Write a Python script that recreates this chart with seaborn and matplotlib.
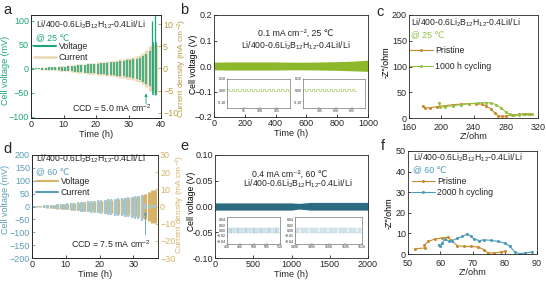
import numpy as np
import matplotlib.pyplot as plt
import seaborn as sns

sns.set_style("ticks")
plt.rcParams['font.family'] = ['Liberation Sans', 'DejaVu Sans']
plt.rcParams['mathtext.fontset'] = 'custom'
plt.rcParams['mathtext.rm'] = 'Liberation Sans'
plt.rcParams['mathtext.it'] = 'Liberation Sans:italic'
plt.rcParams['font.size'] = 6.5
plt.rcParams['axes.linewidth'] = 0.6
plt.rcParams['xtick.direction'] = 'in'
plt.rcParams['ytick.direction'] = 'in'

W, H = 546, 281
CELL = "Li/400-0.6Li$_2$B$_{12}$H$_{12}$-0.4LiI/Li"

# ---- data: panel a (CCD test, 25 C)
a_time = [0.5, 1.5, 2.5, 3.5, 4.5, 5.5, 6.5, 7.5, 8.5, 9.5, 10.5, 11.5, 12.5,
          13.5, 14.5, 15.5, 16.5, 17.5, 18.5, 19.5, 20.5, 21.5, 22.5, 23.5,
          24.5, 25.5, 26.5, 27.5, 28.5, 29.5, 30.5, 31.5, 32.5, 33.5, 34.5,
          35.5, 36.5, 37.5, 38.5]
a_current = [0.1, 0.15, 0.2, 0.25, 0.3, 0.35, 0.4, 0.45, 0.5, 0.55, 0.6, 0.68,
             0.76, 0.84, 0.92, 1.0, 1.08, 1.16, 1.24, 1.32, 1.4, 1.48, 1.56,
             1.64, 1.72, 1.8, 1.92, 2.04, 2.16, 2.28, 2.4, 2.6, 2.8, 3.1, 3.6,
             4.2, 5.0, 5.5, 5.5]
a_voltage = [0.8, 1.1, 1.5, 1.9, 2.3, 2.6, 3.0, 3.4, 3.8, 4.1, 4.5, 5.1, 5.7,
             6.3, 6.9, 7.5, 8.1, 8.7, 9.3, 9.9, 10.5, 11.1, 11.7, 12.3, 12.9,
             13.5, 14.4, 15.3, 16.2, 17.1, 18.0, 19.5, 21.0, 23.0, 27.0, 31.0,
             37.0, 55.0, 55.0]
a_spike_time = [37.3, 38.3]
a_spike_top = [100, 112]
a_spike_bottom = [-45, -55]

# ---- data: panel d (CCD test, 60 C)
d_time = [0.5, 1.5, 2.5, 3.5, 4.5, 5.5, 6.5, 7.5, 8.5, 9.5, 10.5, 11.5, 12.5,
          13.5, 14.5, 15.5, 16.5, 17.5, 18.5, 19.5, 20.5, 21.5, 22.5, 23.5,
          24.5, 25.5, 26.5, 27.5, 28.5, 29.5, 30.5, 31.5, 32.5, 33.5, 34.5,
          35.5, 36.3]
d_volt_up = [1, 2, 3, 4, 5, 6, 7, 8, 9, 11, 12, 13, 15, 16, 17, 18, 20, 21, 22,
             24, 25, 26, 28, 29, 30, 32, 33, 34, 36, 37, 40, 42, 45, 8, 6, 5, 5]
d_volt_down = [1, 2, 3, 4, 6, 7, 8, 10, 11, 12, 14, 15, 17, 18, 20, 21, 23, 24,
               26, 27, 29, 30, 32, 33, 35, 36, 38, 40, 42, 44, 47, 50, 55, 10, 8,
               6, 6]
d_current = [0.1, 0.2, 0.4, 0.5, 0.7, 0.8, 1.0, 1.2, 1.3, 1.5, 1.7, 1.8, 2.0,
             2.2, 2.4, 2.5, 2.7, 2.9, 3.1, 3.2, 3.4, 3.6, 3.8, 4.0, 4.2, 4.4,
             4.6, 4.8, 5.0, 5.3, 5.6, 6.0, 6.5, 7.5, 8.5, 9.5, 9.5]

# ---- data: panel b (0.1 mA cm-2, 25 C) envelope
b_time = [0, 100, 200, 300, 400, 500, 600, 700, 800, 900, 1000]
b_upper = [0.015, 0.016, 0.016, 0.016, 0.016, 0.015, 0.015, 0.016, 0.017, 0.019, 0.023]
b_lower = [-0.015, -0.016, -0.016, -0.016, -0.016, -0.015, -0.015, -0.016, -0.017, -0.019, -0.021]
b_in1_v = [0.012, -0.004] * 14
b_in2_v = [0.014, -0.006] * 12

# ---- data: panel e (0.4 mA cm-2, 60 C) envelope
e_time = [0, 250, 500, 750, 1000, 1100, 1250, 1500, 1750, 2000]
e_upper = [0.007, 0.007, 0.007, 0.007, 0.007, 0.006, 0.008, 0.008, 0.008, 0.008]
e_lower = [-0.007, -0.007, -0.007, -0.007, -0.007, -0.005, -0.007, -0.007, -0.007, -0.007]
e_in1_v = [0.009, -0.009] * 30
e_in2_v = [0.010, -0.010] * 30

# ---- data: panel c (EIS, 25 C)
c_pris_x = [177, 180, 186, 195, 205, 215, 225, 235, 243, 250, 256, 262, 267, 271,
            275, 280, 288, 296, 304, 310]
c_pris_y = [24, 19, 20, 22, 24, 26, 27, 28, 28, 27, 23, 17, 9, 4, 3, 4, 6, 7, 8, 8]
c_cyc_x = [197, 199, 205, 215, 225, 235, 245, 255, 262, 268, 274, 280, 285,
           290, 296, 302, 308, 312]
c_cyc_y = [30, 21, 22, 24, 26, 28, 29, 30, 29, 26, 20, 12, 7, 5, 6, 7, 8, 8]

# ---- data: panel f (EIS, 60 C)
f_pris_x = [52.1, 55.3, 55.1, 56.3, 58.4, 60.5, 62.3, 63.2, 65.3, 67.4, 69.5,
            71.6, 73.7, 74.7, 76.8, 78.9, 80.0]
f_pris_y = [2.6, 2.9, 4.5, 6.1, 7.3, 7.7, 8.2, 6.9, 4.0, 3.7, 3.7, 3.4, 2.1,
            0.5, 0.5, 1.0, 1.3]
f_cyc_x = [59.5, 60.0, 60.5, 61.6, 62.6, 63.7, 65.3, 66.8, 68.4, 69.5, 70.5,
           72.1, 73.7, 75.8, 77.9, 80.0, 81.6, 83.2, 84.7, 86.3, 88.4]
f_cyc_y = [4.5, 3.7, 5.3, 7.3, 6.1, 6.5, 7.6, 8.5, 9.8, 8.5, 7.3, 6.5, 6.9,
           6.6, 6.1, 5.3, 3.7, 0.8, 0.2, 0.5, 1.0]

# colours
GREEN_A = "#1ea57b"
BEIGE = "#e8d9b4"
GOLD = "#bb9a45"
LIME = "#8db82c"
ORANGE = "#c98a2d"
LIME2 = "#93c240"
BLUE_D = "#a3c8d5"
BLUE_LBL = "#5a9db6"
GOLD_D = "#d6b36a"
TEAL = "#2b6c82"
BLUE_F = "#4c9bb6"

fig = plt.figure(figsize=(W / 100, H / 100), dpi=100)


def box(x0, y0, x1, y1):
    return fig.add_axes([x0 / W, 1 - y1 / H, (x1 - x0) / W, (y1 - y0) / H])


def ftext(x, y, s, **kw):
    fig.text(x / W, 1 - y / H, s, **kw)


def ylab(ax, s, x, y, color="black", size=6.5):
    # x: right edge of the rotated label for a left axis, left edge for a right axis
    ax.set_ylabel(s, fontsize=size, color=color)
    ax.yaxis.set_label_coords(x / W, 1 - y / H, transform=fig.transFigure)


def style(ax, size=6.5):
    ax.tick_params(labelsize=size, length=2, width=0.6, pad=1.5)


def square_wave(ax, t0, dt, values, color, lw=0.5):
    tt, vv = [], []
    for i, v in enumerate(values):
        tt += [t0 + i * dt, t0 + (i + 1) * dt]
        vv += [v, v]
    sns.lineplot(x=tt, y=vv, sort=False, estimator=None, color=color, lw=lw, ax=ax)


LEG = dict(bbox_transform=fig.transFigure, frameon=False, fontsize=6.3,
           handletextpad=0.3, borderpad=0, borderaxespad=0, loc='upper left')

# ================= panel a
ax = box(31, 15, 161, 118)
ax2 = ax.twinx()
ax.set_zorder(ax2.get_zorder() + 1)
ax.patch.set_visible(False)
ax2.vlines(a_time, [-c for c in a_current], a_current, color=BEIGE, lw=2.4)
ax.vlines(a_time, [-v for v in a_voltage], a_voltage, color=GREEN_A, lw=1.1)
ax.vlines(a_spike_time, a_spike_bottom, a_spike_top, color=GREEN_A, lw=0.9)
ax.set_xlim(0, 40)
ax.set_ylim(-103, 112)
ax2.set_ylim(-11.2, 12.1)
ax.set_xticks([0, 10, 20, 30, 40])
ax.set_yticks([-100, -50, 0, 50, 100])
ax2.set_yticks([-10, -5, 0, 5, 10])
style(ax); style(ax2)
ax.tick_params(axis='y', colors=GREEN_A)
ax2.tick_params(axis='y', colors=GOLD)
ax2.spines['right'].set_color(GOLD)
ax.set_xlabel("Time (h)", fontsize=6.7, labelpad=1)
ylab(ax, "Cell voltage (mV)", 10.5, 70, GREEN_A)
ylab(ax2, "Current density (mA cm$^{-2}$)", 175.5, 68, GOLD, 6.0)
ax.annotate("", xy=(35.4, -46), xytext=(35.4, -80),
            arrowprops=dict(arrowstyle="-|>", color=GREEN_A, lw=0.6, mutation_scale=4))
ftext(36, 25, CELL, fontsize=6.2, va='center')
ftext(36, 38, "@ 25 ℃", fontsize=6.3, va='center', color=GREEN_A)
ftext(112, 108, "CCD = 5.0 mA cm$^{-2}$", fontsize=6.3, va='center', ha='center')
ax.plot([], [], color=GREEN_A, lw=1.5, label="Voltage")
ax.plot([], [], color=BEIGE, lw=1.8, label="Current")
ax.legend(bbox_to_anchor=(34 / W, 1 - 42 / H), handlelength=2.5, labelspacing=0.2, **LEG)

# ================= panel d
ax = box(32, 155, 158, 258)
ax2 = ax.twinx()
ax.set_zorder(ax2.get_zorder() + 1)
ax.patch.set_visible(False)
ax2.vlines(d_time, [-c for c in d_current], d_current, color=GOLD_D, lw=2.3)
ax.vlines(d_time, [-v for v in d_volt_down], d_volt_up, color=BLUE_D, lw=1.6)
ax.set_xlim(0, 37.3)
ax.set_ylim(-200, 200)
ax2.set_ylim(-30, 30)
ax.set_xticks([0, 10, 20, 30])
ax.set_yticks([-200, -150, -100, -50, 0, 50, 100, 150, 200])
ax2.set_yticks([-30, -20, -10, 0, 10, 20, 30])
style(ax); style(ax2)
ax.tick_params(axis='y', colors=BLUE_LBL)
ax2.tick_params(axis='y', colors=GOLD_D)
ax2.spines['right'].set_color(GOLD_D)
ax.set_xlabel("Time (h)", fontsize=6.7, labelpad=1)
ylab(ax, "Cell voltage (mV)", 10.5, 199, BLUE_LBL)
ylab(ax2, "Current density (mA cm$^{-2}$)", 174, 204, GOLD_D, 6.0)
ax.annotate("", xy=(33.6, -10), xytext=(33.6, -120),
            arrowprops=dict(arrowstyle="-|>", color=BLUE_LBL, lw=0.6, mutation_scale=4))
ftext(36, 159, CELL, fontsize=6.2, va='center')
ftext(36, 172, "@ 60 ℃", fontsize=6.3, va='center', color=BLUE_LBL)
ftext(111, 244, "CCD = 7.5 mA cm$^{-2}$", fontsize=6.3, va='center', ha='center')
ax.plot([], [], color=GOLD_D, lw=1.5, label="Voltage")
ax.plot([], [], color=BLUE_LBL, lw=1.5, label="Current")
ax.legend(bbox_to_anchor=(36 / W, 1 - 177 / H), handlelength=2.5, labelspacing=0.2, **LEG)

# ================= panel b
ax = box(214, 15, 368, 117)
ax.fill_between(b_time, b_lower, b_upper, color=LIME, lw=0)
ax.set_xlim(0, 1000)
ax.set_ylim(-0.2, 0.2)
ax.set_xticks([0, 200, 400, 600, 800, 1000])
ax.set_yticks([-0.2, -0.1, 0.0, 0.1, 0.2])
style(ax)
ax.set_xlabel("Time (h)", fontsize=6.7, labelpad=1)
ylab(ax, "Cell voltage (V)", 198, 64, size=6.2)
ftext(296, 33, "0.1 mA cm⁻², 25 ℃", fontsize=6.3, ha='center', va='center')
ftext(296, 46, CELL, fontsize=6.2, ha='center', va='center')
for (x0, x1, t0, v, xt) in [(227, 290, 90, b_in1_v, [95, 100, 105]),
                            (303, 365, 790, b_in2_v, [795, 800, 805])]:
    ins = box(x0, 79, x1, 108)
    square_wave(ins, t0, 0.68, v, LIME2, lw=0.4)
    ins.set_xlim(t0, t0 + 19)
    ins.set_ylim(-0.15, 0.10)
    ins.set_xticks(xt)
    ins.set_yticks([-0.10, 0.00, 0.10])
    ins.set_yticklabels(["-0.10", "0.00", "0.10"])
    ins.tick_params(labelsize=2.5, length=1, width=0.3, pad=0.5)
    for s in ins.spines.values():
        s.set_linewidth(0.4)
        s.set_color("#555555")

# ================= panel e
ax = box(215, 155, 368, 258)
ax.fill_between(e_time, e_lower, e_upper, color=TEAL, lw=0)
ax.set_xlim(0, 2000)
ax.set_ylim(-0.1, 0.1)
ax.set_xticks([0, 500, 1000, 1500, 2000])
ax.set_yticks([-0.10, -0.05, 0.00, 0.05, 0.10])
ax.set_yticklabels(["-0.10", "-0.05", "0.00", "0.05", "0.10"])
style(ax)
ax.set_xlabel("Time (h)", fontsize=6.7, labelpad=1)
ylab(ax, "Cell voltage (V)", 196, 201, size=6.2)
ftext(290, 174, "0.4 mA cm⁻², 60 ℃", fontsize=6.3, ha='center', va='center')
ftext(298, 184, CELL, fontsize=6.2, ha='center', va='center')
for (x0, x1, t0, v, xt) in [(227, 280, 490, e_in1_v, [490, 495, 500, 505, 510]),
                            (295, 362, 1490, e_in2_v, [1490, 1495, 1500, 1505, 1510])]:
    ins = box(x0, 217, x1, 244)
    square_wave(ins, t0, 20 / 60, v, BLUE_D, lw=0.35)
    ins.set_xlim(t0, t0 + 20)
    ins.set_ylim(-0.05, 0.05)
    ins.set_xticks(xt)
    ins.set_yticks([-0.04, -0.02, 0.00, 0.02, 0.04])
    ins.tick_params(labelsize=2.5, length=1, width=0.3, pad=0.5)
    for s in ins.spines.values():
        s.set_linewidth(0.4)
        s.set_color("#555555")

# ================= panel c
ax = box(409, 15, 538, 118)
sns.lineplot(x=c_pris_x, y=c_pris_y, sort=False, estimator=None, color=ORANGE, lw=0.8,
             marker='o', markersize=2.2, markeredgewidth=0, label="Pristine", ax=ax)
sns.lineplot(x=c_cyc_x, y=c_cyc_y, sort=False, estimator=None, color=LIME2, lw=0.8,
             marker='o', markersize=2.2, markeredgewidth=0, label="1000 h cycling", ax=ax)
ax.set_xlim(160, 320)
ax.set_ylim(0, 200)
ax.set_xticks([160, 200, 240, 280, 320])
ax.set_yticks([0, 50, 100, 150, 200])
style(ax)
ax.tick_params(axis='x', pad=3.5)
ax.set_xlabel("Z'/ohm", fontsize=6.7, labelpad=0)
ylab(ax, "-Z\"/ohm", 391, 62)
ftext(411, 23, CELL, fontsize=6.2, va='center')
ftext(411, 35, "@ 25 ℃", fontsize=6.3, va='center', color=LIME2)
ax.legend(bbox_to_anchor=(410 / W, 1 - 46 / H), handlelength=2.6, labelspacing=0.75, **LEG)

# ================= panel f
ax = box(408, 151, 537, 254)
sns.lineplot(x=f_pris_x, y=f_pris_y, sort=False, estimator=None, color=ORANGE, lw=0.8,
             marker='o', markersize=2.2, markeredgewidth=0, label="Pristine", ax=ax)
sns.lineplot(x=f_cyc_x, y=f_cyc_y, sort=False, estimator=None, color=BLUE_F, lw=0.8,
             marker='o', markersize=2.2, markeredgewidth=0, label="2000 h cycling", ax=ax)
ax.set_xlim(50, 90)
ax.set_ylim(0, 50)
ax.set_xticks([50, 60, 70, 80, 90])
ax.set_yticks([0, 10, 20, 30, 40, 50])
style(ax)
ax.tick_params(axis='x', pad=3.5)
ax.set_xlabel("Z'/ohm", fontsize=6.7, labelpad=0)
ylab(ax, "-Z\"/ohm", 394, 213)
ftext(413, 158, CELL, fontsize=6.2, va='center')
ftext(413, 170, "@ 60 ℃", fontsize=6.3, va='center', color=BLUE_F)
ax.legend(bbox_to_anchor=(412 / W, 1 - 177 / H), handlelength=2.6, labelspacing=0.2, **LEG)

# panel letters
for (x, y, s) in [(3, 10, "a"), (180, 10, "b"), (376, 12, "c"),
                  (3, 149, "d"), (180, 146, "e"), (381, 146, "f")]:
    ftext(x, y, s, fontsize=10.5, va='center')

fig.savefig("out.png", dpi=100)
